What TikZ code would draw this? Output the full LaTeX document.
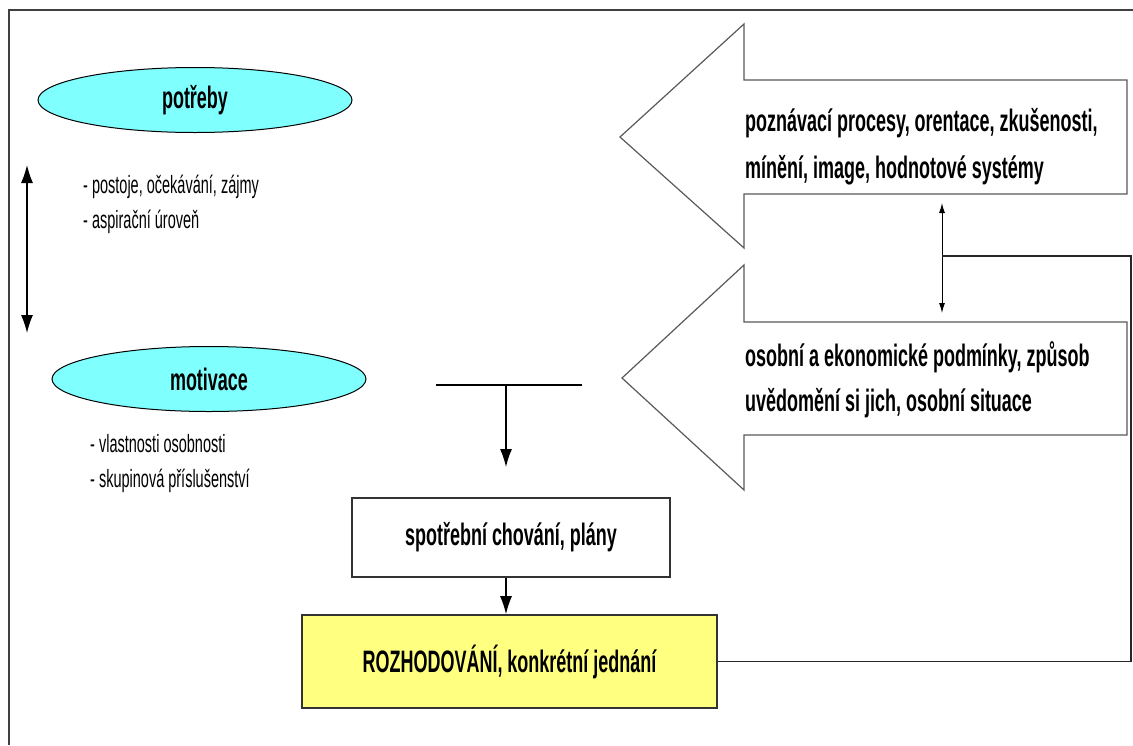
\documentclass[tikz,border=0pt]{standalone}
\usepackage{fontspec}
\setmainfont[FakeStretch=0.58]{Liberation Sans}
\usetikzlibrary{shapes,arrows.meta}
\definecolor{svetlemodra}{RGB}{128,255,255}
\definecolor{svetlezluta}{RGB}{255,255,128}
\tikzstyle{elipsa} = [ellipse,draw,line width=1pt,fill=svetlemodra,minimum width=314,minimum height=65,inner sep=0pt,font=\fontsize{31}{37}\selectfont\bfseries]
\tikzstyle{ramecek} = [rectangle,draw=black!80,line width=1.6pt,inner sep=0pt,font=\fontsize{31}{37}\selectfont\bfseries]
\tikzstyle{velkasipka} = [draw=black!65,line width=1.2pt,fill=white]
\tikzstyle{popis} = [anchor=west,align=left,inner sep=0pt,font=\fontsize{25}{35}\selectfont]
\tikzstyle{vtext} = [anchor=west,align=left,inner sep=0pt,font=\fontsize{31}{47}\selectfont\bfseries]
\tikzstyle{arrow} = [line width=1.2pt,-{Latex[length=18pt,width=12pt]}]
\tikzstyle{darrow} = [line width=1.2pt,{Latex[length=18pt,width=12pt]}-{Latex[length=18pt,width=12pt]}]
\tikzstyle{tarrow} = [line width=1pt,{Latex[length=10pt,width=6pt]}-{Latex[length=10pt,width=6pt]}]
\tikzstyle{spoj} = [line width=1.5pt,draw=black!85]

\begin{document}
\begin{tikzpicture}[x=1pt,y=-1pt]
  \useasboundingbox (0,0) rectangle (1133,745);
  \draw[line width=1.6pt,black!75] (9,745) -- (9,10) -- (1133,10);

  % leva strana
  \node[elipsa] (potreby) at (195,100) {potřeby};
  \node[popis] (postoje) at (83,204.5) {- postoje, očekávání, zájmy\\- aspirační úroveň};
  \node[elipsa] (motivace) at (209,379) {motivace};
  \node[popis] (vlastnosti) at (90,463.5) {- vlastnosti osobnosti\\- skupinová příslušenství};
  \coordinate (lh) at (27,165);
  \coordinate (ld) at (27,333);
  \draw[darrow] (lh) -- (ld);

  % velke sipky
  \draw[velkasipka] (1127,80) -- (744,80) -- (744,24) -- (620,137) -- (744,248) -- (744,194) -- (1127,194) -- cycle;
  \node[vtext] (poznavaci) at (745,146.5) {poznávací procesy, orentace, zkušenosti,\\mínění, image, hodnotové systémy};
  \draw[velkasipka] (1127,322) -- (744,322) -- (744,265) -- (622,378) -- (744,490) -- (744,435) -- (1127,435) -- cycle;
  \node[vtext] (podminky) at (745,379.5) {osobní a ekonomické podmínky, způsob\\[-2pt]uvědomění si jich, osobní situace};
  \coordinate (sh) at (942,203);
  \coordinate (sd) at (942,313);
  \coordinate (odb) at (942,256);
  \coordinate (roh) at (1131,256);
  \draw[tarrow] (sh) -- (sd);

  % stred
  \coordinate (tl) at (436,385);
  \coordinate (tp) at (582,385);
  \coordinate (ts) at (506,385);
  \coordinate (tk) at (506,467);
  \draw[line width=1.2pt] (tl) -- (tp);
  \draw[arrow] (ts) -- (tk);
  \node[ramecek,fill=white,minimum width=318,minimum height=79] (spotreba) at (511,537.5) {spotřební chování, plány};
  \node[ramecek,fill=svetlezluta,minimum width=415,minimum height=93] (rozhodovani) at (509.5,661.5) {ROZHODOVÁNÍ, konkrétní jednání};
  \draw[arrow] (spotreba.south -| ts) -- (rozhodovani.north -| ts);

  % zpetna vazba
  \draw[spoj] (rozhodovani.east) -| (roh) -- (odb);
\end{tikzpicture}
\end{document}
